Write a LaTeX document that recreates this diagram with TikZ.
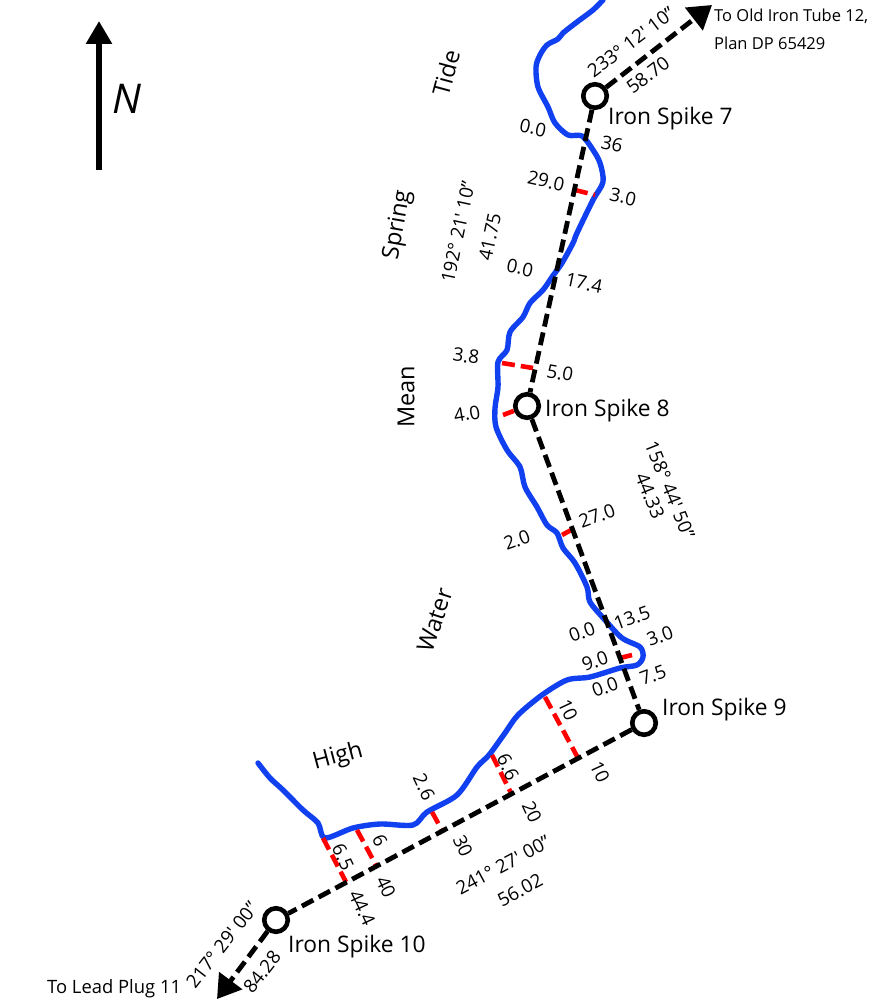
\documentclass[tikz,border=0pt]{standalone}
\usepackage{fontspec}
\setmainfont{Open Sans}
\usetikzlibrary{arrows.meta}
\definecolor{riverblue}{HTML}{1040F0}
\definecolor{offsetred}{HTML}{FF0000}
\tikzset{
  spike/.style={circle, draw=black, line width=4.6pt, fill=white, minimum size=23.5pt, inner sep=0pt},
  spikelabel/.style={anchor=west, inner sep=0pt, font=\fontsize{22.8}{24}\selectfont},
  tiemark/.style={inner sep=0pt, font=\fontsize{18.7}{20}\selectfont},
  tidemark/.style={inner sep=0pt, font=\fontsize{23.5}{25}\selectfont},
  farlabel/.style={anchor=west, inner sep=0pt, font=\fontsize{16.5}{20}\selectfont},
  boundary/.style={black, line width=4.8pt, dash pattern=on 13pt off 6pt},
  offset/.style={offsetred, line width=4.6pt, dash pattern=on 13pt off 6pt},
  river/.style={riverblue, line width=5.4pt, line cap=round, line join=round},
  headtip/.style={-{Triangle[length=23pt, width=28pt]}}
}
\newcommand{\mn}{\textquotesingle}

\begin{document}
\begin{tikzpicture}[x=1pt, y=-1pt]
  \useasboundingbox (0,0) rectangle (893,1000);

  % north arrow
  \coordinate (northfoot) at (99,170);
  \coordinate (northtip) at (99,21);
  \draw[line width=5.7pt, -{Triangle[length=23pt, width=25pt]}] (northfoot) -- (northtip);
  \node[inner sep=0pt, font=\fontsize{41}{43}\selectfont\itshape] (northlabel) at (127,99) {N};

  % river bank
  \draw[river] plot[smooth, tension=0.5] coordinates {
    (603,0) (593,10) (577,22) (563,33) (558,39) (547,45) (540,55) (536,67)
    (538,87) (548,107) (555,123) (568,135) (582,136) (593,150) (600,163) (603,182)
    (593,200) (577,233) (573,243) (562,263) (552,277) (543,290) (530,303) (523,317)
    (510,332) (507,350) (498,362) (498,387) (495,408) (496,427) (507,450) (520,467)
    (525,487) (537,507) (547,525) (557,533) (563,548) (575,563) (587,587) (590,602)
    (605,620) (622,638) (640,647) (643,657) (637,665) (620,668) (590,677) (567,680)
    (542,695) (518,715) (505,733) (489,755) (477,767) (457,795) (427,812) (413,825)
    (380,824) (353,828) (325,838) (318,823) (303,810) (283,790) (270,778) (258,763)};

  % spikes
  \node[spike] (spike7) at (595,96) {};
  \node[spike] (spike8) at (527,406) {};
  \node[spike] (spike9) at (644,723) {};
  \node[spike] (spike10) at (276,920) {};
  \coordinate (oldtube) at (712,5);
  \coordinate (leadplug) at (217,999);

  % offset ends
  \coordinate (a29) at (575,190);  \coordinate (b29) at (595,195);
  \coordinate (a38) at (502,363);  \coordinate (b38) at (533,368);
  \coordinate (a40) at (503,415);
  \coordinate (a27) at (562,535);  \coordinate (b27) at (573,529);
  \coordinate (a9) at (620,658);   \coordinate (b9) at (632,655);
  \coordinate (a10) at (545,697);  \coordinate (b10) at (578,758);
  \coordinate (a20) at (492,755);  \coordinate (b20) at (512,795);
  \coordinate (a30) at (432,812);  \coordinate (b30) at (443,832);
  \coordinate (a6) at (357,830);   \coordinate (b6) at (377,867);
  \coordinate (a65) at (323,838);  \coordinate (b65) at (346,882);

  \draw[offset] (a29) -- (b29);
  \draw[offset] (a38) -- (b38);
  \draw[offset] (a40) -- (spike8);
  \draw[offset] (a27) -- (b27);
  \draw[offset] (a9) -- (b9);
  \draw[offset] (a10) -- (b10);
  \draw[offset] (a20) -- (b20);
  \draw[offset] (a30) -- (b30);
  \draw[offset] (a6) -- (b6);
  \draw[offset] (a65) -- (b65);

  % boundary
  \draw[boundary, headtip] (spike7) -- (oldtube);
  \draw[boundary] (spike7) -- (spike8);
  \draw[boundary] (spike8) -- (spike9);
  \draw[boundary] (spike9) -- (spike10);
  \draw[boundary, headtip] (spike10) -- (leadplug);

  % spike names
  \node[spikelabel] (name7) at (608,119) {Iron Spike 7};
  \node[spikelabel] (name8) at (545,411) {Iron Spike 8};
  \node[spikelabel] (name9) at (662,710) {Iron Spike 9};
  \node[spikelabel] (name10) at (288,947) {Iron Spike 10};
  \node[farlabel] (tube1) at (714,16) {To Old Iron Tube 12,};
  \node[farlabel] (tube2) at (714,43) {Plan DP 65429};
  \node[farlabel, font=\fontsize{18.4}{20}\selectfont] (plug) at (47,989) {To Lead Plug 11};

  % high water mark
  \node[tidemark, rotate=75] (tide) at (446,73) {Tide};
  \node[tidemark, rotate=80] (spring) at (398,225) {Spring};
  \node[tidemark, rotate=90] (mean) at (406,397) {Mean};
  \node[tidemark, rotate=72] (water) at (435,620) {Water};
  \node[tidemark, rotate=15] (high) at (338,757) {High};

  % bearings and distances
  \node[tiemark, rotate=37] (bear7) at (631,42) {233° 12\mn{} 10"};
  \node[tiemark, rotate=37] (dist7) at (648,75) {58.70};
  \node[tiemark, rotate=78] (bear8) at (458,232) {192° 21\mn{} 10"};
  \node[tiemark, rotate=78] (dist8) at (490,237) {41.75};
  \node[tiemark, rotate=-68] (bear9) at (670,490) {158° 44\mn{} 50"};
  \node[tiemark, rotate=-68] (dist9) at (650,496) {44.33};
  \node[tiemark, rotate=28] (bear10) at (503,865) {241° 27\mn{} 00"};
  \node[tiemark, rotate=28] (dist10) at (520,890) {56.02};
  \node[tiemark, rotate=52] (bear11) at (222,945) {217° 29\mn{} 00"};
  \node[tiemark, rotate=52] (dist11) at (262,972) {84.28};

  % chainages and offsets
  \node[tiemark, rotate=-12] (off0a) at (533,128) {0.0};
  \node[tiemark, rotate=-12] (ch36) at (612,144) {36};
  \node[tiemark, rotate=-12] (ch29) at (546,181) {29.0};
  \node[tiemark, rotate=-12] (off3a) at (623,197) {3.0};
  \node[tiemark, rotate=-12] (off0b) at (520,268) {0.0};
  \node[tiemark, rotate=-12] (ch17) at (584,283) {17.4};
  \node[tiemark, rotate=-8] (off38) at (466,356) {3.8};
  \node[tiemark, rotate=-10] (ch5) at (560,373) {5.0};
  \node[tiemark, rotate=10] (off4) at (467,414) {4.0};
  \node[tiemark, rotate=20] (off2) at (517,540) {2.0};
  \node[tiemark, rotate=20] (ch27) at (597,516) {27.0};
  \node[tiemark, rotate=20] (ch13) at (632,618) {13.5};
  \node[tiemark, rotate=20] (off0c) at (582,632) {0.0};
  \node[tiemark, rotate=20] (off3b) at (660,636) {3.0};
  \node[tiemark, rotate=20] (ch9) at (595,661) {9.0};
  \node[tiemark, rotate=20] (ch7) at (653,675) {7.5};
  \node[tiemark, rotate=20] (off0d) at (605,687) {0.0};
  \node[tiemark, rotate=-65] (off10) at (568,710) {10};
  \node[tiemark, rotate=-65] (ch10) at (600,772) {10};
  \node[tiemark, rotate=-65] (off66) at (508,767) {6.6};
  \node[tiemark, rotate=-65] (ch20) at (532,812) {20};
  \node[tiemark, rotate=-65] (off26) at (424,787) {2.6};
  \node[tiemark, rotate=-65] (ch30) at (463,846) {30};
  \node[tiemark, rotate=-65] (off6) at (380,841) {6};
  \node[tiemark, rotate=-65] (ch40) at (386,887) {40};
  \node[tiemark, rotate=-65] (off65) at (343,857) {6.5};
  \node[tiemark, rotate=-65] (ch44) at (362,908) {44.4};

\end{tikzpicture}
\end{document}
